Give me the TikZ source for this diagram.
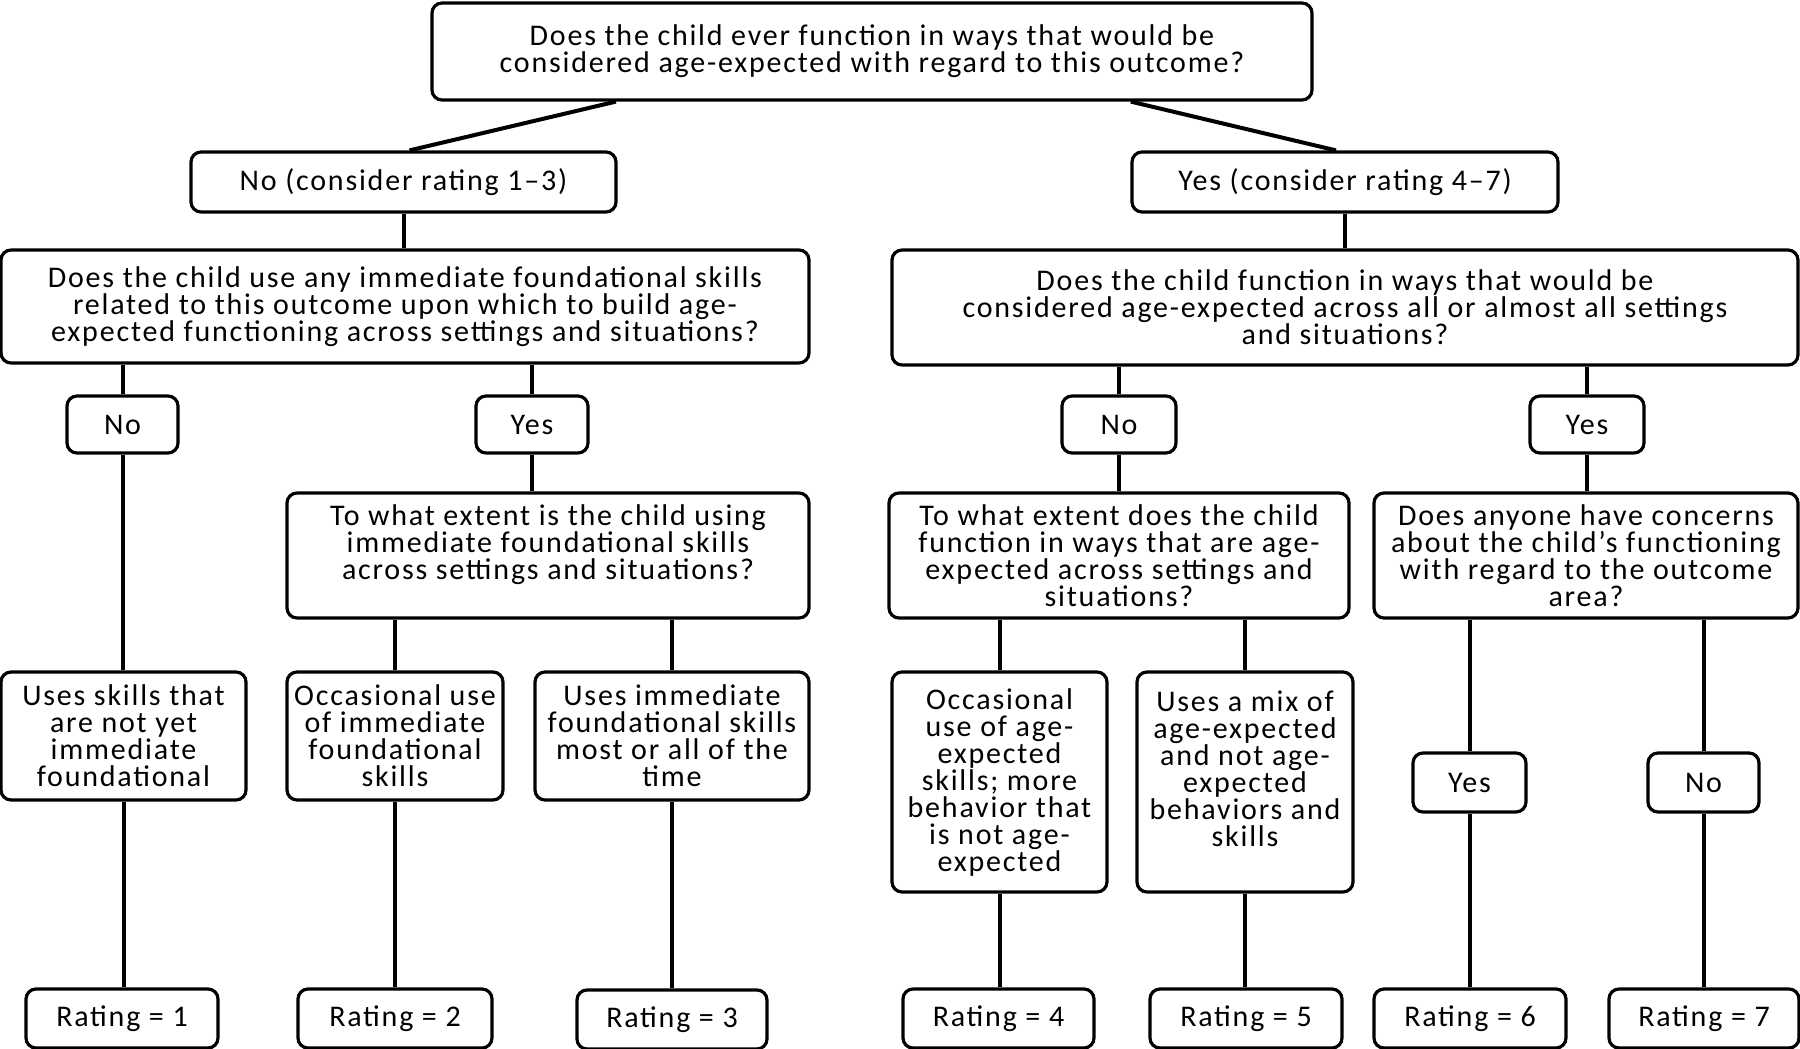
\documentclass[tikz,border=0pt]{standalone}
\usepackage{fontspec}
\setmainfont[LetterSpace=6]{Carlito}
\usetikzlibrary{calc}
\begin{document}
\begin{tikzpicture}[x=0.5pt,y=-0.5pt,
  box/.style={draw,line width=1.6pt,rounded corners=5pt,align=center,inner sep=0pt,
    font=\fontsize{15}{13.5}\selectfont},
  conn/.style={line width=2pt}]
\useasboundingbox (0,0) rectangle (1800,1049);
% level 0
\node[box,minimum width=440pt,minimum height=48.5pt] (top) at (872,51.5)
  {Does the child ever function in ways that would be\\considered age-expected with regard to this outcome?};
% level 1
\node[box,minimum width=212.5pt,minimum height=30pt] (noTop) at (403.5,182) {No (consider rating 1–3)};
\node[box,minimum width=213pt,minimum height=30pt] (yesTop) at (1345,182) {Yes (consider rating 4–7)};
% level 2
\node[box,minimum width=404pt,minimum height=56.5pt] (qL) at (405,306.5)
  {Does the child use any immediate foundational skills\\related to this outcome upon which to build age-\\expected functioning across settings and situations?};
\node[box,minimum width=453pt,minimum height=57.5pt] (qR) at (1345,307.5)
  {Does the child function in ways that would be\\considered age-expected across all or almost all settings\\and situations?};
% level 3
\node[box,minimum width=55.5pt,minimum height=28.5pt] (noL) at (122.5,424.5) {No};
\node[box,minimum width=56pt,minimum height=28.5pt] (yesL) at (532,424.5) {Yes};
\node[box,minimum width=57pt,minimum height=28.5pt] (noR) at (1119,424.5) {No};
\node[box,minimum width=57pt,minimum height=28.5pt] (yesR) at (1587,424.5) {Yes};
% level 4
\node[box,minimum width=261pt,minimum height=62.5pt] (qL2) at (548,555.5)
  {To what extent is the child using\\immediate foundational skills\\across settings and situations?\\\mbox{}};
\node[box,minimum width=230pt,minimum height=62.5pt] (qR2) at (1119,555.5)
  {To what extent does the child\\function in ways that are age-\\expected across settings and\\situations?};
\node[box,minimum width=212pt,minimum height=62.5pt] (qC) at (1586,555.5)
  {Does anyone have concerns\\about the child’s functioning\\with regard to the outcome\\area?};
% level 5
\node[box,minimum width=122.5pt,minimum height=64pt] (leafA) at (123.5,736)
  {Uses skills that\\are not yet\\immediate\\foundational};
\node[box,minimum width=108pt,minimum height=64pt] (leafB) at (395,736)
  {Occasional use\\of immediate\\foundational\\skills};
\node[box,minimum width=137pt,minimum height=64pt] (leafC) at (672,736)
  {Uses immediate\\foundational skills\\most or all of the\\time};
\node[box,minimum width=107.5pt,minimum height=110pt] (leafD) at (999.5,782)
  {Occasional\\use of age-\\expected\\skills; more\\behavior that\\is not age-\\expected};
\node[box,minimum width=108pt,minimum height=110pt] (leafE) at (1245,782)
  {Uses a mix of\\age-expected\\and not age-\\expected\\behaviors and\\skills\\\mbox{}};
\node[box,minimum width=56.5pt,minimum height=29.5pt] (yesC) at (1469.5,782.5) {Yes};
\node[box,minimum width=55.5pt,minimum height=29.5pt] (noC) at (1703.5,782.5) {No};
% ratings
\node[box,minimum width=96pt,minimum height=29.5pt] (r1) at (122,1018.5) {Rating = 1};
\node[box,minimum width=97pt,minimum height=29.5pt] (r2) at (395,1018.5) {Rating = 2};
\node[box,minimum width=95pt,minimum height=29.5pt] (r3) at (672,1019.5) {Rating = 3};
\node[box,minimum width=95.5pt,minimum height=29.5pt] (r4) at (998.5,1018.5) {Rating = 4};
\node[box,minimum width=96pt,minimum height=29.5pt] (r5) at (1246,1018.5) {Rating = 5};
\node[box,minimum width=96pt,minimum height=29.5pt] (r6) at (1470,1018.5) {Rating = 6};
\node[box,minimum width=95pt,minimum height=29.5pt] (r7) at (1704,1018.5) {Rating = 7};
% connectors
\draw[conn] ($(top.south west)!0.21!(top.south east)$) -- ($(noTop.north)+(6,0)$);
\draw[conn] ($(top.south west)!0.793!(top.south east)$) -- ($(yesTop.north)+(-9,0)$);
\draw[conn] (noTop.south) -- (qL.north -| noTop.south);
\draw[conn] (yesTop.south) -- (qR.north -| yesTop.south);
\draw[conn] (qL.south -| noL.north) -- (noL.north);
\draw[conn] (qL.south -| yesL.north) -- (yesL.north);
\draw[conn] (qR.south -| noR.north) -- (noR.north);
\draw[conn] (qR.south -| yesR.north) -- (yesR.north);
\draw[conn] (noL.south) -- (leafA.north -| noL.south);
\draw[conn] (yesL.south) -- (qL2.north -| yesL.south);
\draw[conn] (noR.south) -- (qR2.north -| noR.south);
\draw[conn] (yesR.south) -- (qC.north -| yesR.south);
\draw[conn] (qL2.south -| leafB.north) -- (leafB.north);
\draw[conn] (qL2.south -| leafC.north) -- (leafC.north);
\draw[conn] (qR2.south -| leafD.north) -- (leafD.north);
\draw[conn] (qR2.south -| leafE.north) -- (leafE.north);
\draw[conn] (qC.south -| yesC.north) -- (yesC.north);
\draw[conn] (qC.south -| noC.north) -- (noC.north);
\draw[conn] (leafA.south) -- (r1.north -| leafA.south);
\draw[conn] (leafB.south) -- (r2.north);
\draw[conn] (leafC.south) -- (r3.north);
\draw[conn] (leafD.south) -- (r4.north -| leafD.south);
\draw[conn] (leafE.south) -- (r5.north -| leafE.south);
\draw[conn] (yesC.south) -- (r6.north -| yesC.south);
\draw[conn] (noC.south) -- (r7.north -| noC.south);
\end{tikzpicture}
\end{document}
